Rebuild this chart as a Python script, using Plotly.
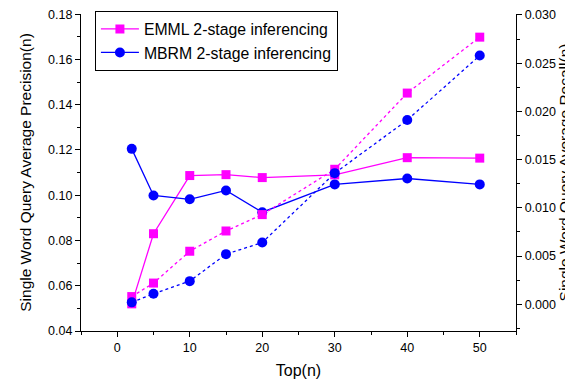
import plotly.graph_objects as go

top_n = [2, 5, 10, 15, 20, 30, 40, 50]
emml_precision = [0.052, 0.083, 0.1087, 0.1091, 0.1078, 0.109, 0.1166, 0.1164]
mbrm_precision = [0.1205, 0.0999, 0.0982, 0.1021, 0.0925, 0.1048, 0.1074, 0.1048]
emml_recall = [0.0008, 0.0022, 0.0055, 0.0076, 0.0093, 0.0140, 0.0219, 0.0277]
mbrm_recall = [0.0002, 0.0011, 0.0024, 0.0052, 0.0064, 0.0136, 0.0191, 0.0258]

MAG = "#FF00FF"
BLU = "#0000FF"
FONT = "Liberation Sans, Arial, sans-serif"

fig = go.Figure()
fig.add_trace(go.Scatter(x=top_n, y=emml_recall, yaxis="y2", mode="lines+markers",
                         line=dict(color=MAG, width=1.3, dash="3px,3px"),
                         marker=dict(symbol="square", size=9, color=MAG), showlegend=False))
fig.add_trace(go.Scatter(x=top_n, y=mbrm_recall, yaxis="y2", mode="lines+markers",
                         line=dict(color=BLU, width=1.3, dash="3px,3px"),
                         marker=dict(symbol="circle", size=10, color=BLU), showlegend=False))
fig.add_trace(go.Scatter(x=top_n, y=emml_precision, mode="lines+markers",
                         name="EMML 2-stage inferencing",
                         line=dict(color=MAG, width=1.3),
                         marker=dict(symbol="square", size=9, color=MAG)))
fig.add_trace(go.Scatter(x=top_n, y=mbrm_precision, mode="lines+markers",
                         name="MBRM 2-stage inferencing",
                         line=dict(color=BLU, width=1.3),
                         marker=dict(symbol="circle", size=10, color=BLU)))

axis_common = dict(showgrid=False, zeroline=False, showline=True, linecolor="black",
                   linewidth=1.3, ticks="outside", ticklen=5, tickwidth=1, tickcolor="black",
                   automargin=False, ticklabeloverflow="allow",
                   tickfont=dict(family=FONT, size=12.5, color="black"))

fig.update_layout(
    width=565, height=375,
    margin=dict(l=73, r=57, t=3, b=52),
    paper_bgcolor="white", plot_bgcolor="white",
    font=dict(family=FONT, color="black"),
    xaxis=dict(range=[-5, 55], dtick=10, tick0=0,
               minor=dict(dtick=5, ticklen=3, tickcolor="black", ticks="outside"),
               title=dict(text="Top(n)", font=dict(size=16), standoff=10),
               **axis_common),
    yaxis=dict(range=[0.04, 0.1801], dtick=0.02, tick0=0.04, tickformat=".2f",
               minor=dict(dtick=0.01, ticklen=3, tickcolor="black", ticks="outside"),
               title=dict(text="Single Word Query Average Precision(n)", font=dict(size=15.5), standoff=12),
               **axis_common),
    yaxis2=dict(overlaying="y", side="right", range=[-0.00277, 0.0301], dtick=0.005, tick0=0,
                tickformat=".3f",
                minor=dict(dtick=0.0025, ticklen=3, tickcolor="black", ticks="outside"),
                title=dict(text="Single Word Query Average Recall(n)", font=dict(size=15.5), standoff=8),
                **axis_common),
    legend=dict(x=0.032, y=1.009, xanchor="left", yanchor="top",
                bordercolor="black", borderwidth=1, bgcolor="white",
                font=dict(family=FONT, size=15.8, color="black"),
                tracegroupgap=0, itemwidth=38),
)

fig.write_html("out.html")
